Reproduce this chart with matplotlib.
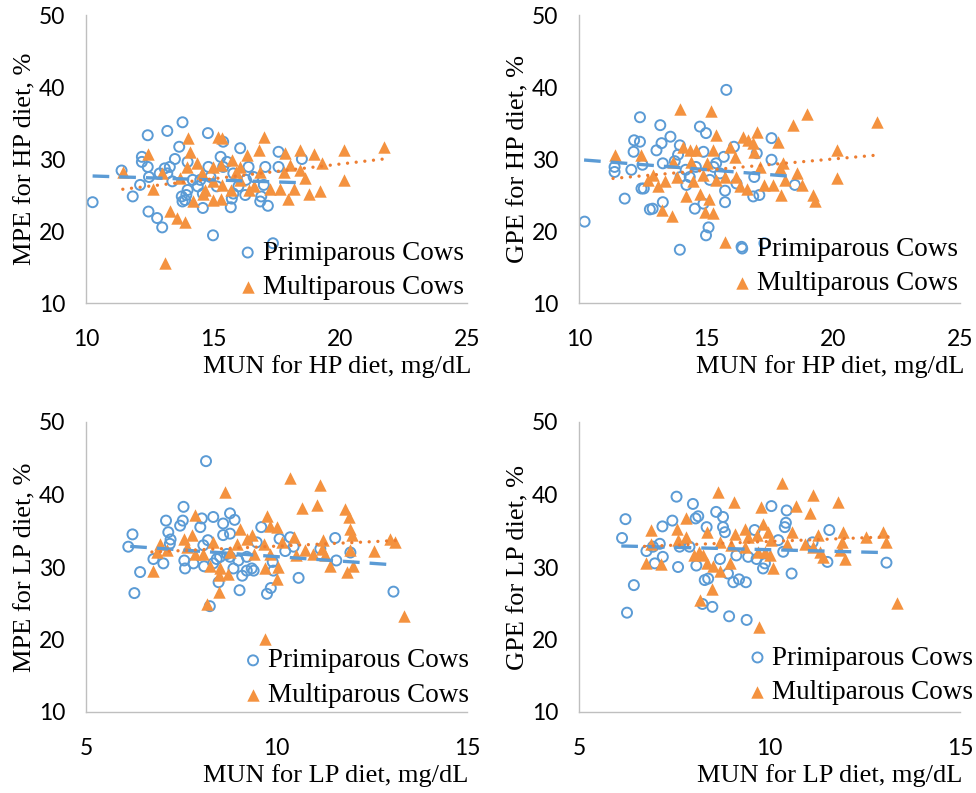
import matplotlib.pyplot as plt
import numpy as np

# ---------------- data ----------------
# top-left: MPE vs MUN, HP diet
hp_mpe_prim_x = [10.26, 11.4, 11.84, 12.13, 12.2, 12.2, 12.43, 12.43, 12.46, 12.48, 12.8, 13.0, 13.2, 13.1,
                 13.3, 13.2, 13.5, 13.67, 13.8, 13.77, 13.8, 13.9, 13.95, 14.0, 14.6, 14.8, 14.82, 15.0,
                 14.5, 15.15, 15.4, 15.55, 15.7, 15.74, 15.8, 16.07, 16.27, 16.3, 16.86, 16.9, 17.0, 17.06,
                 17.16, 17.36, 17.58, 17.58, 18.5, 15.4, 15.3, 14.0, 14.2, 14.4, 14.6, 14.9, 15.8, 16.0,
                 16.4, 16.6, 12.9, 13.4]
hp_mpe_prim_y = [24.0, 28.4, 24.8, 26.4, 30.3, 29.6, 33.3, 28.9, 22.7, 27.5, 21.8, 20.5, 33.9, 28.7,
                 28.9, 28.0, 30.0, 31.7, 35.1, 24.8, 24.1, 24.3, 25.0, 29.6, 23.2, 33.6, 28.9, 19.4,
                 27.1, 26.2, 32.4, 29.6, 23.3, 24.5, 25.2, 31.5, 25.0, 27.1, 24.1, 24.8, 26.4, 28.9,
                 23.5, 18.3, 31.0, 28.9, 30.0, 28.9, 30.3, 25.7, 27.1, 26.2, 25.2, 27.5, 28.0, 26.2,
                 28.9, 27.5, 28.0, 26.9]
hp_mpe_multi_x = [11.45, 12.43, 12.65, 13.0, 13.1, 13.3, 13.6, 13.9, 14.0, 14.1, 14.23, 13.97, 13.7, 14.36,
                  14.56, 14.6, 15.0, 15.0, 15.2, 15.35, 15.3, 15.35, 15.3, 15.74, 15.9, 16.07, 16.33, 16.4,
                  16.6, 16.8, 16.86, 17.0, 17.25, 17.65, 17.85, 17.8, 17.97, 18.04, 18.17, 18.44, 18.44,
                  18.63, 18.76, 18.96, 19.22, 19.29, 20.14, 20.14, 21.72, 14.7, 15.7, 16.07, 15.0]
hp_mpe_multi_y = [28.2, 30.7, 25.8, 28.1, 15.5, 22.8, 21.8, 21.3, 32.9, 31.0, 24.1, 28.9, 27.3, 29.4,
                  28.0, 25.2, 28.9, 24.3, 33.1, 32.9, 29.2, 26.4, 24.5, 29.9, 28.2, 28.9, 30.6, 25.7,
                  26.2, 31.3, 28.2, 33.1, 25.8, 25.8, 30.8, 28.2, 24.5, 29.2, 25.9, 31.3, 28.5,
                  27.3, 25.2, 30.7, 25.5, 29.5, 31.3, 27.1, 31.7, 25.7, 25.7, 27.1, 26.9]
hp_mpe_prim_trend_x = [10.26, 18.5]
hp_mpe_prim_trend_y = [27.64, 26.7]
hp_mpe_multi_trend_x = [11.45, 21.72]
hp_mpe_multi_trend_y = [25.8, 30.0]

# top-right: GPE vs MUN, HP diet
hp_gpe_prim_x = [10.22, 11.4, 11.4, 11.8, 12.06, 12.15, 12.17, 12.4, 12.4, 12.46, 12.55, 12.5, 12.79, 12.9,
                 13.05, 13.2, 13.25, 13.3, 13.3, 13.6, 13.77, 13.97, 13.97, 13.9, 14.0, 14.23, 14.36,
                 14.56, 14.76, 14.9, 14.9, 15.0, 15.0, 15.1, 15.15, 15.3, 15.4, 15.7, 15.75, 15.75, 15.8,
                 16.1, 16.2, 16.4, 16.86, 16.9, 17.0, 17.1, 17.3, 17.58, 17.58, 18.5, 14.6, 14.2, 15.55]
hp_gpe_prim_y = [21.3, 28.9, 28.2, 24.5, 28.5, 31.0, 32.6, 35.8, 32.4, 25.9, 25.9, 29.2, 23.0, 23.1,
                 31.2, 34.7, 32.2, 24.0, 29.4, 33.1, 29.7, 31.9, 17.4, 30.6, 27.5, 26.4, 27.5,
                 23.1, 34.5, 31.0, 23.8, 33.6, 19.4, 20.5, 27.1, 28.9, 29.4, 30.3, 25.6, 24.0, 39.6,
                 31.7, 26.6, 17.8, 24.8, 27.5, 30.8, 25.0, 18.3, 32.9, 29.9, 26.4, 28.9, 28.5, 28.0]
hp_gpe_multi_x = [11.4, 12.46, 12.7, 12.9, 13.1, 13.27, 13.4, 13.65, 13.7, 13.85, 13.97, 14.1, 14.23, 14.36,
                  14.4, 14.5, 14.6, 14.76, 14.9, 14.96, 15.05, 15.1, 15.2, 15.28, 15.28, 15.4, 15.4, 15.75,
                  15.75, 15.94, 16.13, 16.2, 16.33, 16.46, 16.6, 16.66, 16.86, 16.9, 17.0, 17.13, 17.3,
                  17.65, 17.84, 17.9, 17.97, 18.04, 18.1, 18.44, 18.6, 18.76, 18.96, 19.22, 19.3, 20.15,
                  20.15, 21.72]
hp_gpe_multi_y = [30.6, 30.6, 27.1, 27.8, 26.2, 22.9, 26.9, 22.1, 29.6, 27.5, 37.0, 31.7, 24.8, 31.2,
                  29.6, 26.9, 31.2, 25.2, 27.8, 22.7, 29.4, 24.5, 36.6, 31.2, 22.5, 33.3, 27.1, 18.5,
                  27.5, 31.7, 30.3, 27.5, 26.2, 33.1, 25.9, 32.6, 32.2, 31.0, 33.8, 28.9, 26.4,
                  26.4, 32.4, 28.7, 25.0, 29.4, 27.1, 34.7, 28.0, 26.4, 36.3, 25.0, 24.1, 31.2,
                  27.3, 35.2]
hp_gpe_prim_trend_x = [10.2, 18.5]
hp_gpe_prim_trend_y = [29.86, 27.55]
hp_gpe_multi_trend_x = [11.34, 21.6]
hp_gpe_multi_trend_y = [27.3, 30.5]

# bottom-left: MPE vs MUN, LP diet
lp_mpe_prim_x = [6.11, 6.22, 6.27, 6.42, 6.77, 7.03, 7.1, 7.16, 7.22, 7.2, 7.47, 7.54, 7.56, 7.58, 7.6,
                 7.82, 8.0, 8.04, 8.08, 8.1, 8.15, 8.2, 8.25, 8.34, 8.34, 8.48, 8.52, 8.6, 8.6, 8.7, 8.78,
                 8.78, 8.78, 8.87, 8.9, 9.03, 9.1, 9.22, 9.35, 9.4, 9.48, 9.6, 9.75, 9.85, 9.9, 9.92,
                 10.08, 10.23, 10.36, 10.45, 10.58, 11.15, 11.54, 11.57, 11.94, 13.07, 9.0, 9.22, 8.43]
lp_mpe_prim_y = [32.8, 34.5, 26.4, 29.3, 31.1, 30.5, 36.4, 34.8, 33.8, 33.2, 35.7, 36.4, 38.3, 30.9, 29.8,
                 30.5, 35.5, 36.7, 33.0, 30.1, 44.6, 33.7, 24.6, 36.9, 30.5, 27.9, 31.4, 36.0, 34.4, 31.8,
                 31.4, 34.6, 37.4, 29.8, 36.5, 26.8, 28.8, 29.5, 29.8, 29.5, 33.4, 35.5, 26.3, 27.1, 30.7,
                 29.5, 33.9, 32.2, 34.1, 32.8, 28.5, 32.5, 34.0, 30.9, 32.0, 26.6, 30.9, 31.4, 31.1]
lp_mpe_multi_x = [6.77, 6.86, 6.93, 7.12, 7.56, 7.65, 7.78, 7.85, 7.87, 8.08, 8.17, 8.26, 8.34, 8.48, 8.48,
                  8.52, 8.65, 8.74, 8.78, 8.96, 9.05, 9.22, 9.35, 9.4, 9.66, 9.7, 9.7, 9.75, 9.82, 9.83,
                  10.0, 10.05, 10.0, 10.14, 10.36, 10.45, 10.5, 10.66, 10.75, 10.97, 11.06, 11.15, 11.19,
                  11.23, 11.28, 11.41, 11.8, 11.84, 11.89, 11.94, 11.98, 12.0, 11.92, 12.55, 12.99, 13.12,
                  13.35]
lp_mpe_multi_y = [29.5, 32.1, 33.2, 32.3, 33.9, 32.8, 34.4, 37.2, 31.8, 31.8, 24.9, 30.2, 33.4, 28.9, 26.6,
                  29.8, 40.3, 29.1, 32.1, 33.2, 35.3, 33.9, 34.4, 31.8, 33.2, 29.8, 20.1, 37.1, 31.8, 35.7,
                  35.5, 30.0, 28.4, 33.4, 42.3, 34.1, 31.6, 38.2, 32.3, 31.8, 38.5, 41.3, 32.5,
                  33.7, 31.6, 30.2, 38.0, 29.3, 36.9, 35.3, 34.4, 30.2, 32.3, 32.2, 33.8, 33.4,
                  23.2]
lp_mpe_prim_trend_x = [6.16, 13.07]
lp_mpe_prim_trend_y = [32.85, 30.3]
lp_mpe_multi_trend_x = [6.73, 13.34]
lp_mpe_multi_trend_y = [32.07, 33.7]

# bottom-right: GPE vs MUN, LP diet
lp_gpe_prim_x = [6.13, 6.22, 6.26, 6.44, 6.77, 6.94, 6.99, 7.12, 7.19, 7.2, 7.45, 7.56, 7.6, 7.64, 7.99,
                 8.06, 8.08, 8.13, 8.24, 8.3, 8.39, 8.35, 8.5, 8.6, 8.7, 8.78, 8.78, 8.83, 8.91, 8.94,
                 9.05, 9.13, 9.2, 9.38, 9.4, 9.44, 9.61, 9.83, 9.88, 10.05, 10.23, 10.36, 10.4, 10.43,
                 10.45, 10.58, 11.13, 11.52, 11.57, 13.07, 9.66, 7.9]
lp_gpe_prim_y = [34.0, 36.6, 23.7, 27.5, 32.2, 32.8, 30.5, 33.2, 35.6, 31.4, 36.4, 39.7, 30.0, 32.8, 38.7,
                 36.7, 30.2, 37.0, 24.9, 28.2, 28.4, 35.5, 24.5, 37.6, 31.1, 36.9, 35.5, 34.8, 29.1, 23.2,
                 27.9, 31.6, 28.3, 27.9, 22.7, 31.4, 35.1, 29.8, 30.5, 38.4, 33.7, 32.1, 35.5, 36.1,
                 37.8, 29.1, 33.4, 30.7, 35.1, 30.6, 31.1, 32.8]
lp_gpe_multi_x = [6.75, 6.9, 6.9, 7.14, 7.56, 7.6, 7.82, 7.82, 8.01, 8.15, 8.17, 8.26, 8.35, 8.35, 8.5,
                  8.52, 8.65, 8.7, 8.7, 8.96, 9.0, 9.06, 9.09, 9.35, 9.37, 9.44, 9.66, 9.7, 9.73, 9.79,
                  9.83, 9.88, 9.96, 10.0, 10.05, 10.1, 10.34, 10.45, 10.58, 10.69, 10.93, 11.06, 11.13,
                  11.15, 11.26, 11.32, 11.41, 11.8, 11.84, 11.89, 11.93, 11.98, 12.53, 12.99, 13.07, 13.34]
lp_gpe_multi_y = [30.5, 35.1, 33.2, 30.4, 35.3, 33.7, 36.8, 34.1, 31.6, 32.1, 25.4, 31.6, 34.8, 30.5, 27.0,
                  30.2, 40.4, 29.5, 33.4, 30.6, 33.0, 39.0, 34.6, 32.8, 35.3, 34.1, 34.4, 32.1, 21.7, 38.3,
                  36.0, 32.1, 34.8, 31.6, 33.7, 29.8, 41.6, 33.2, 34.8, 38.4, 33.2, 37.4, 40.0,
                  32.8, 34.4, 32.1, 31.4, 39.0, 32.3, 33.4, 34.8, 31.1, 34.1, 34.8, 33.4, 25.0]
lp_gpe_prim_trend_x = [6.11, 13.07]
lp_gpe_prim_trend_y = [32.9, 31.98]
lp_gpe_multi_trend_x = [6.72, 13.29]
lp_gpe_multi_trend_y = [32.85, 34.2]

BLUE = '#5B9BD5'
ORANGE = '#F4923F'
ORANGE_LINE = '#ED7D31'
GRID = '#BFBFBF'
SERIF = 'Liberation Serif'


def draw_panel(ax, px, py, mx, my, ptx, pty, mtx, mty, xlim, xticks, xlabel, ylabel,
               xlab_x, leg_anchor):
    ax.scatter(px, py, s=52, facecolors='none', edgecolors=BLUE, linewidths=1.4,
               label='Primiparous Cows', zorder=2)
    ax.scatter(mx, my, s=80, marker='^', color=ORANGE, linewidths=0,
               label='Multiparous Cows', zorder=3)
    ax.plot(ptx, pty, color=BLUE, lw=2.4, linestyle=(0, (5, 3)), zorder=4)
    ax.plot(mtx, mty, color=ORANGE_LINE, lw=2.4, linestyle=(0, (0.01, 2.6)),
            dash_capstyle='round', zorder=4)
    ax.set_xlim(xlim)
    ax.set_ylim(10, 50)
    ax.set_xticks(xticks)
    ax.set_yticks([10, 20, 30, 40, 50])
    for s in ['top', 'right']:
        ax.spines[s].set_visible(False)
    for s in ['left', 'bottom']:
        ax.spines[s].set_color(GRID)
        ax.spines[s].set_linewidth(1.0)
    ax.tick_params(length=0, labelsize=16.5, pad=0)
    ax.tick_params(axis='x', pad=19)
    ax.tick_params(axis='y', pad=15)
    for lab in ax.get_xticklabels() + ax.get_yticklabels():
        lab.set_fontfamily('Lato')
    ax.text(xlab_x, -0.22, xlabel, transform=ax.transAxes, ha='center', va='center',
            fontsize=19, family=SERIF)
    ax.text(-0.16, 0.5, ylabel, transform=ax.transAxes, ha='center', va='center',
            rotation=90, fontsize=19, family=SERIF)
    ax.legend(loc='lower left', bbox_to_anchor=leg_anchor, frameon=False,
              prop={'family': SERIF, 'size': 19.5}, handlelength=0.8, handletextpad=0.15,
              labelspacing=0.35, borderpad=0, borderaxespad=0, markerscale=1.0)


fig = plt.figure(figsize=(9.76, 7.93), dpi=100)
W, H = 976, 793


def axes_px(left, top, right, bottom):
    return fig.add_axes([left / W, 1 - bottom / H, (right - left) / W, (bottom - top) / H])


ax1 = axes_px(86, 15, 467, 303)
ax2 = axes_px(579, 15, 960, 303)
ax3 = axes_px(86, 422, 467, 712)
ax4 = axes_px(579, 422, 960, 712)

draw_panel(ax1, hp_mpe_prim_x, hp_mpe_prim_y, hp_mpe_multi_x, hp_mpe_multi_y,
           hp_mpe_prim_trend_x, hp_mpe_prim_trend_y, hp_mpe_multi_trend_x, hp_mpe_multi_trend_y,
           (10, 25), [10, 15, 20, 25], 'MUN for HP diet, mg/dL', 'MPE for HP diet, %',
           0.66, (0.396, 0.01))
draw_panel(ax2, hp_gpe_prim_x, hp_gpe_prim_y, hp_gpe_multi_x, hp_gpe_multi_y,
           hp_gpe_prim_trend_x, hp_gpe_prim_trend_y, hp_gpe_multi_trend_x, hp_gpe_multi_trend_y,
           (10, 25), [10, 15, 20, 25], 'MUN for HP diet, mg/dL', 'GPE for HP diet, %',
           0.66, (0.40, 0.024))
draw_panel(ax3, lp_mpe_prim_x, lp_mpe_prim_y, lp_mpe_multi_x, lp_mpe_multi_y,
           lp_mpe_prim_trend_x, lp_mpe_prim_trend_y, lp_mpe_multi_trend_x, lp_mpe_multi_trend_y,
           (5, 15), [5, 10, 15], 'MUN for LP diet, mg/dL', 'MPE for LP diet, %',
           0.656, (0.41, 0.014))
draw_panel(ax4, lp_gpe_prim_x, lp_gpe_prim_y, lp_gpe_multi_x, lp_gpe_multi_y,
           lp_gpe_prim_trend_x, lp_gpe_prim_trend_y, lp_gpe_multi_trend_x, lp_gpe_multi_trend_y,
           (5, 15), [5, 10, 15], 'MUN for LP diet, mg/dL', 'GPE for LP diet, %',
           0.659, (0.44, 0.024))

fig.savefig('out.png', dpi=100)
